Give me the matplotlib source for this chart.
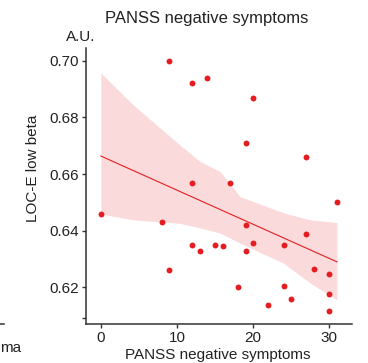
import numpy as np
import matplotlib.pyplot as plt
from matplotlib.lines import Line2D

plt.rcParams['font.family'] = ['Liberation Sans', 'DejaVu Sans']

# PANSS negative score vs LOC-E low beta
panss = [9, 12, 14, 20, 0, 8, 12, 17, 19, 19, 27, 27, 31, 9, 12, 13, 15, 16,
         18, 19, 20, 22, 24, 24, 25, 28, 30, 30, 30]
beta = [0.700, 0.692, 0.694, 0.687, 0.646, 0.643, 0.657, 0.657, 0.671, 0.642,
        0.666, 0.639, 0.650, 0.626, 0.635, 0.633, 0.635, 0.6345, 0.620, 0.633,
        0.6356, 0.6137, 0.635, 0.6204, 0.616, 0.6265, 0.6248, 0.6176, 0.6115]

# confidence band edges
band_x = [0, 4.3, 10.4, 13, 15.7, 18.3, 24, 27.5, 31]
band_hi = [0.6957, 0.6843, 0.6702, 0.6645, 0.6608, 0.6520, 0.6463, 0.6438, 0.6429]
band_lo = [0.6459, 0.6438, 0.6426, 0.6410, 0.6391, 0.6356, 0.6285, 0.6215, 0.6156]

red = '#E41E20'

fig = plt.figure(figsize=(3.68, 3.63), dpi=100)
ax = fig.add_axes([0.234, 0.107, 0.723, 0.760])

ax.fill_between(band_x, band_lo, band_hi, color='#FBDADC', lw=0, zorder=1)
slope, icpt = np.polyfit(panss, beta, 1)
xs = np.array([0, 31])
ax.plot(xs, icpt + slope * xs, color=red, lw=0.8, zorder=2)
ax.scatter(panss, beta, s=18, color=red, lw=0, zorder=3)

ax.set_xlim(-1.93, 33)
ax.set_ylim(0.607, 0.7044)
ax.set_xticks([0, 10, 20, 30])
ax.set_yticks([0.62, 0.64, 0.66, 0.68, 0.70])
ax.set_yticklabels(['0.62', '0.64', '0.66', '0.68', '0.70'])
ax.set_yticks([0.609], minor=True)
for s in ['top', 'right']:
    ax.spines[s].set_visible(False)
for s in ['left', 'bottom']:
    ax.spines[s].set_linewidth(1.1)
    ax.spines[s].set_color('#333333')
ax.tick_params(which='both', direction='out', length=3, width=1,
               color='#333333', labelsize=11, pad=2, labelcolor='#222222')

fig.text(0.563, 0.948, 'PANSS negative symptoms', ha='center', va='center',
         fontsize=12, color='#222222')
fig.text(0.218, 0.897, 'A.U.', ha='center', va='center', fontsize=11,
         color='#222222')
fig.text(0.09, 0.535, 'LOC-E low beta', ha='center', va='center',
         rotation=90, fontsize=11, color='#222222')
fig.text(0.593, 0.022, 'PANSS negative symptoms', ha='center', va='center',
         fontsize=11, color='#222222')
fig.text(0.0, 0.042, 'ma', ha='left', va='center', fontsize=11,
         color='#222222')
# edge of the neighbouring panel's axis
fig.add_artist(Line2D([0, 0.011], [0.107, 0.107], color='#333333', lw=1.1))

fig.savefig('out.png', dpi=100)
